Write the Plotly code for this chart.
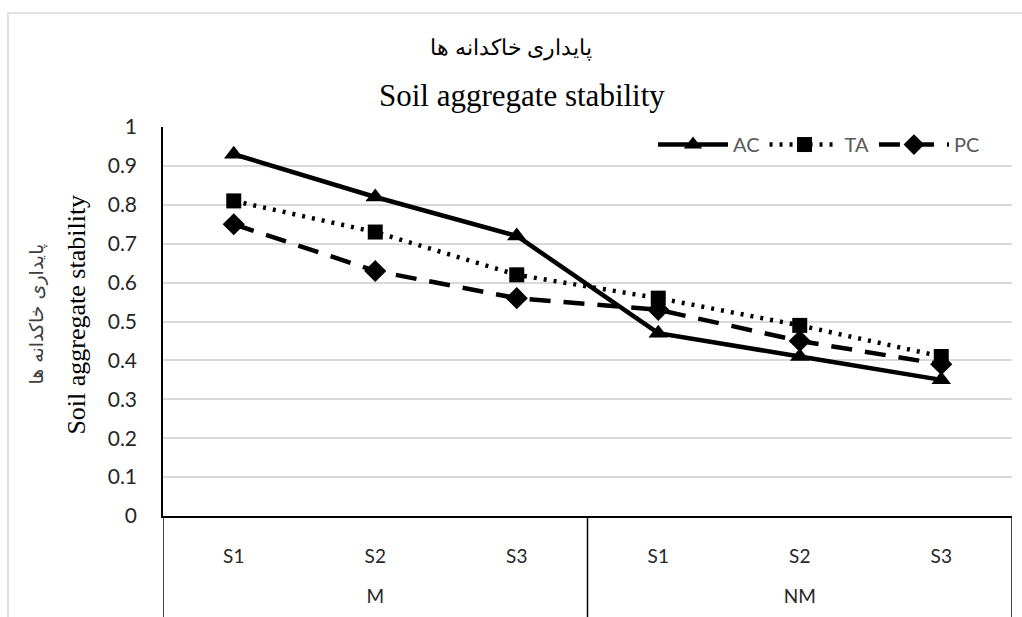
import plotly.graph_objects as go

groups = ["M", "NM"]
stages = ["S1", "S2", "S3", "S1", "S2", "S3"]
ac = [0.93, 0.82, 0.72, 0.47, 0.41, 0.35]
ta = [0.81, 0.73, 0.62, 0.56, 0.49, 0.41]
pc = [0.75, 0.63, 0.56, 0.53, 0.45, 0.39]
y_ticks = [0, 0.1, 0.2, 0.3, 0.4, 0.5, 0.6, 0.7, 0.8, 0.9, 1]
y_tick_text = ["0", "0.1", "0.2", "0.3", "0.4", "0.5", "0.6", "0.7", "0.8", "0.9", "1"]

W, H = 1022, 617
L, R, T, B = 163, 10, 127, 94
pw, ph = W - L - R, H - T - B

def px_x(p):
    return (p - L) / pw

def px_y(p):
    return (H - B - p) / ph

pos = list(range(len(stages)))
per_group = len(stages) // len(groups)
group_centers = [g * per_group + (per_group - 1) / 2 for g in range(len(groups))]
boundaries = [g * per_group - 0.5 for g in range(len(groups) + 1)]
xrange = [-0.5, len(stages) - 0.5]

fig = go.Figure()
fig.add_trace(go.Scatter(x=pos, y=ac, name="AC", mode="lines+markers",
                         line=dict(color="black", width=4.5),
                         marker=dict(symbol="triangle-up", size=17, color="black")))
fig.add_trace(go.Scatter(x=pos, y=ta, name="TA", mode="lines+markers",
                         line=dict(color="black", width=4.5, dash="3px,7px"),
                         marker=dict(symbol="square", size=15, color="black")))
fig.add_trace(go.Scatter(x=pos, y=pc, name="PC", mode="lines+markers",
                         line=dict(color="black", width=4.5, dash="21px,13px"),
                         marker=dict(symbol="diamond", size=17, color="black")))
# invisible trace to activate the group-label axis
fig.add_trace(go.Scatter(x=[group_centers[0]], y=[None], xaxis="x2", showlegend=False,
                         hoverinfo="skip", mode="markers"))

shapes = [dict(type="rect", xref="paper", yref="paper",
               x0=px_x(8), x1=px_x(1060), y0=px_y(700), y1=px_y(11),
               line=dict(color="#d9d9d9", width=1.5), layer="below")]
for b in boundaries:
    shapes.append(dict(type="line", xref="x", yref="paper", x0=b, x1=b,
                       y0=0, y1=px_y(640), line=dict(color="black", width=1.5)))

fig.update_layout(
    width=W, height=H,
    margin=dict(l=L, r=R, t=T, b=B),
    paper_bgcolor="white", plot_bgcolor="white",
    font=dict(family="Lato, Carlito, sans-serif", size=20, color="#262626"),
    showlegend=True,
    legend=dict(orientation="h", x=px_x(985), xanchor="right", y=px_y(125), yanchor="top",
                font=dict(size=20, color="#595959"), bgcolor="rgba(0,0,0,0)",
                itemwidth=70, tracegroupgap=0),
    xaxis=dict(range=xrange, tickmode="array", tickvals=pos, ticktext=stages,
               showgrid=False, showline=True, linecolor="black", linewidth=1.5,
               zeroline=False, ticks="", ticklabelstandoff=22,
               tickfont=dict(size=19, color="#262626")),
    xaxis2=dict(range=xrange, overlaying="x", side="bottom", anchor="y",
                tickmode="array", tickvals=group_centers, ticktext=groups,
                showgrid=False, showline=False, zeroline=False, ticks="",
                ticklabelstandoff=67, tickfont=dict(size=19, color="#262626")),
    yaxis=dict(range=[0, 1], tickvals=y_ticks, ticktext=y_tick_text, showgrid=True,
               gridcolor="#d9d9d9", gridwidth=1.5, showline=True, linecolor="black",
               linewidth=1.5, zeroline=False, ticks="", ticklabelstandoff=20,
               tickfont=dict(size=21, color="#262626")),
    shapes=shapes,
    annotations=[
        dict(text="پایداری خاکدانه ها", xref="paper", yref="paper",
             x=px_x(511), y=px_y(47), xanchor="center", yanchor="middle", showarrow=False,
             font=dict(family="Liberation Serif, DejaVu Serif, serif", size=22, color="black")),
        dict(text="Soil aggregate stability", xref="paper", yref="paper",
             x=px_x(522), y=px_y(95), xanchor="center", yanchor="middle", showarrow=False,
             font=dict(family="Liberation Serif, Times New Roman, serif", size=31, color="black")),
        dict(text="پایداری خاکدانه ها", xref="paper", yref="paper",
             x=px_x(37), y=px_y(318), xanchor="center", yanchor="middle", showarrow=False,
             textangle=-90,
             font=dict(family="DejaVu Sans, sans-serif", size=19, color="#404040")),
        dict(text="Soil aggregate stability", xref="paper", yref="paper",
             x=px_x(77), y=px_y(318), xanchor="center", yanchor="middle", showarrow=False,
             textangle=-90,
             font=dict(family="Liberation Serif, Times New Roman, serif", size=26, color="black")),
    ],
)

fig.write_html("out.html")
